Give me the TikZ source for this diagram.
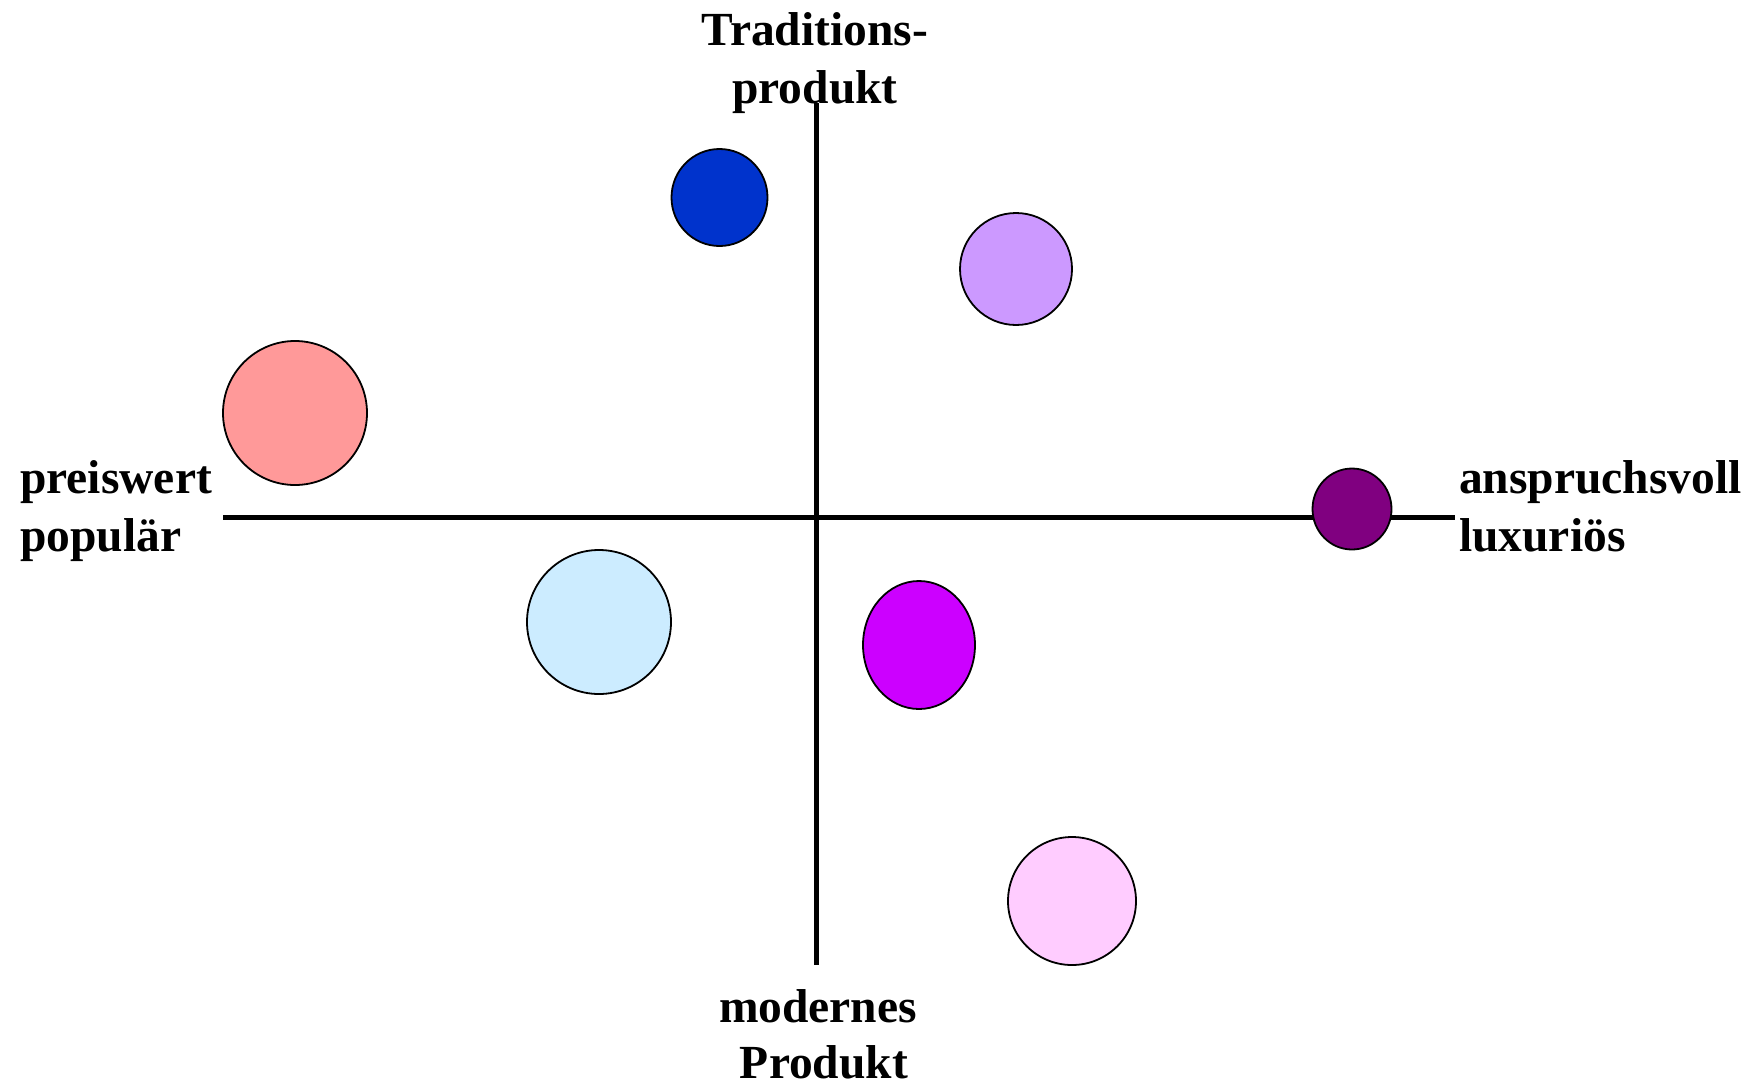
\documentclass[tikz,border=0pt]{standalone}
\usepackage{fontspec}
\setmainfont{Liberation Serif}
\usetikzlibrary{shapes.geometric}
\definecolor{cdarkblue}{HTML}{0033CC}
\definecolor{clavender}{HTML}{CC99FF}
\definecolor{csalmon}{HTML}{FF9999}
\definecolor{cpurple}{HTML}{800080}
\definecolor{clightblue}{HTML}{CCECFF}
\definecolor{cmagenta}{HTML}{CC00FF}
\definecolor{cpink}{HTML}{FFCCFF}
\begin{document}
\begin{tikzpicture}[x=1pt,y=-1pt,
  axisline/.style={line width=5pt},
  blob/.style={ellipse,draw=black,line width=1.8pt,inner sep=0pt},
  lbl/.style={font=\fontsize{47.5}{58}\selectfont\bfseries,inner sep=0pt}]
\useasboundingbox (0,0) rectangle (1760,1085);
% axes
\coordinate (top) at (816,103);
\coordinate (bot) at (816,965);
\coordinate (left) at (223,517.5);
\coordinate (right) at (1455,517.5);
\draw[axisline] (left) -- (right);
\draw[axisline] (top) -- (bot);
% bubbles
\node[blob,fill=cdarkblue,minimum width=96pt,minimum height=97pt] (b1) at (719.5,197.5) {};
\node[blob,fill=clavender,minimum width=112pt,minimum height=112pt] (b2) at (1016,269) {};
\node[blob,fill=csalmon,minimum width=144pt,minimum height=144pt] (b3) at (295,413) {};
\node[blob,fill=cpurple,minimum width=79pt,minimum height=81pt] (b4) at (1352,509) {};
\node[blob,fill=clightblue,minimum width=144pt,minimum height=144pt] (b5) at (599,622) {};
\node[blob,fill=cmagenta,minimum width=112pt,minimum height=128pt] (b6) at (919,645) {};
\node[blob,fill=cpink,minimum width=128pt,minimum height=128pt] (b7) at (1072,901) {};
% labels
\node[lbl,anchor=base] (t1) at (815,45) {Traditions-};
\node[lbl,anchor=base] (t2) at (815,103) {produkt};
\node[lbl,anchor=base] (m1) at (818,1022) {modernes};
\node[lbl,anchor=base] (m2) at (824,1078) {Produkt};
\node[lbl,anchor=base west] (p1) at (20,493) {preiswert};
\node[lbl,anchor=base west] (p2) at (20,551) {populär};
\node[lbl,anchor=base west] (a1) at (1459,493) {anspruchsvoll};
\node[lbl,anchor=base west] (a2) at (1459,551) {luxuriös};
\end{tikzpicture}
\end{document}
